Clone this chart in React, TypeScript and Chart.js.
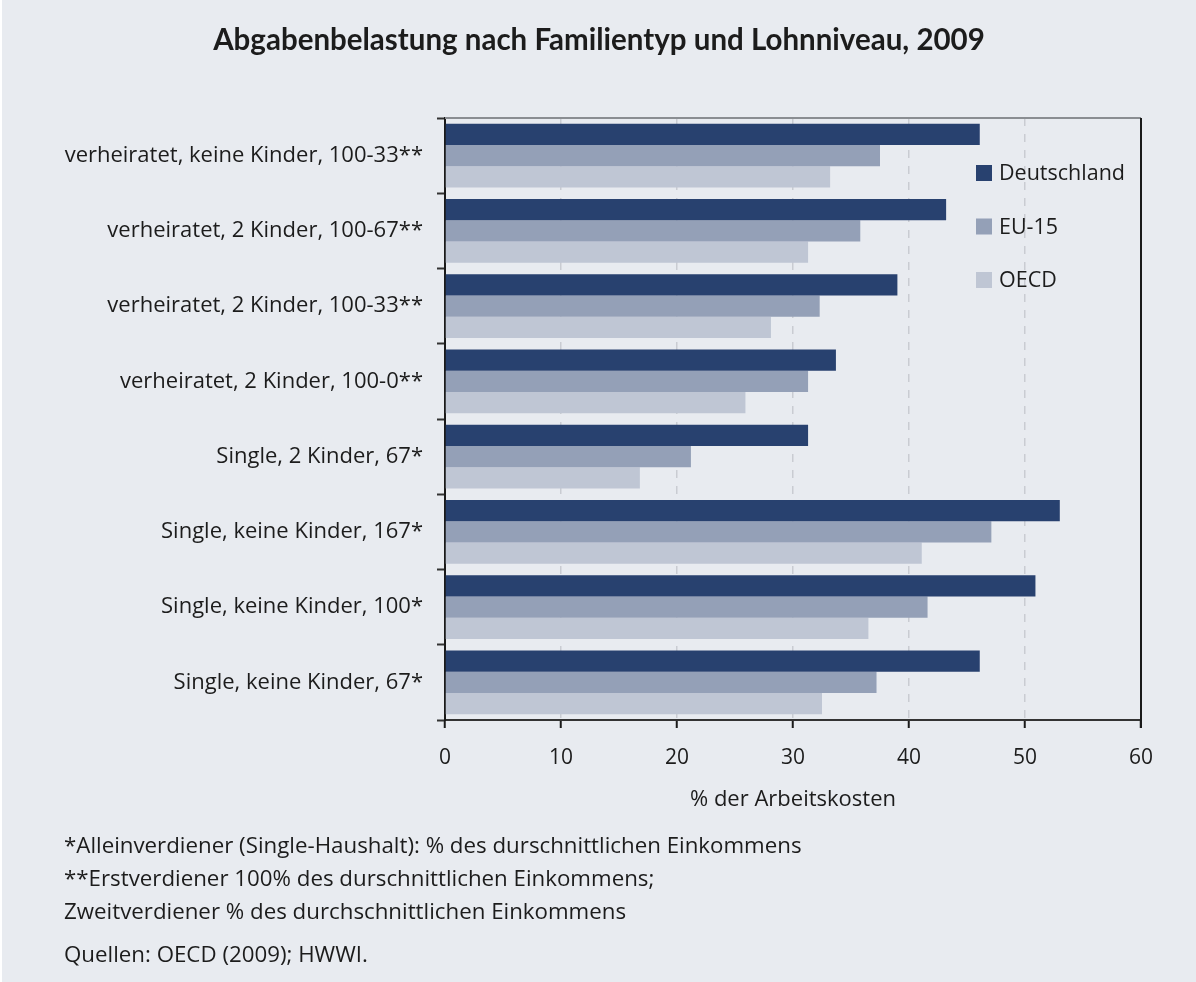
import React, { useEffect, useRef } from "react";
import { Chart, registerables } from "chart.js";
Chart.register(...registerables);

const categories = [
  "verheiratet, keine Kinder, 100-33**",
  "verheiratet, 2 Kinder, 100-67**",
  "verheiratet, 2 Kinder, 100-33**",
  "verheiratet, 2 Kinder, 100-0**",
  "Single, 2 Kinder, 67*",
  "Single, keine Kinder, 167*",
  "Single, keine Kinder, 100*",
  "Single, keine Kinder, 67*",
];
const deutschland = [46.1, 43.2, 39.0, 33.7, 31.3, 53.0, 50.9, 46.1];
const eu15 = [37.5, 35.8, 32.3, 31.3, 21.2, 47.1, 41.6, 37.2];
const oecd = [33.2, 31.3, 28.1, 25.9, 16.8, 41.1, 36.5, 32.5];
const seriesNames = ["Deutschland", "EU-15", "OECD"];
const xMin = 0;
const xMax = 60;
const xStep = 10;

const titleText = "Abgabenbelastung nach Familientyp und Lohnniveau, 2009";
const xTitle = "% der Arbeitskosten";
const notes = [
  "*Alleinverdiener (Single-Haushalt): % des durschnittlichen Einkommens",
  "**Erstverdiener 100% des durschnittlichen Einkommens;",
  "Zweitverdiener % des durchschnittlichen Einkommens",
];
const sourceText = "Quellen: OECD (2009); HWWI.";

const COLORS = ["#28416f", "#94a0b7", "#bfc6d4"];
const BG = "#e8ebf0";
const TEXT = "#1c1c1c";
const FONT = "'Open Sans', Lato, sans-serif";
const TITLE_FONT = "Lato, 'Open Sans', sans-serif";

const legendPlugin = {
  id: "insideLegend",
  afterDatasetsDraw(chart: any) {
    const { ctx, chartArea } = chart;
    ctx.save();
    ctx.font = "21.5px 'Open Sans'";
    ctx.textBaseline = "middle";
    ctx.textAlign = "left";
    chart.data.datasets.forEach((ds: any, i: number) => {
      const x = chartArea.right - 165;
      const y = chartArea.top + 55 + i * 53.5;
      ctx.fillStyle = ds.backgroundColor;
      ctx.fillRect(x, y - 8, 16, 16);
      ctx.fillStyle = TEXT;
      ctx.fillText(ds.label, x + 23, y + 1);
    });
    ctx.restore();
  },
};

const framePlugin = {
  id: "frame",
  afterDraw(chart: any) {
    const { ctx, chartArea } = chart;
    ctx.save();
    ctx.strokeStyle = "#8a8d92";
    ctx.lineWidth = 2;
    ctx.beginPath();
    ctx.moveTo(chartArea.left, chartArea.top);
    ctx.lineTo(chartArea.right, chartArea.top);
    ctx.stroke();
    ctx.strokeStyle = "#1a1a1a";
    ctx.beginPath();
    ctx.moveTo(chartArea.right, chartArea.top);
    ctx.lineTo(chartArea.right, chartArea.bottom + 8);
    ctx.stroke();
    ctx.restore();
  },
};

export default function App() {
  const ref = useRef<HTMLCanvasElement>(null);
  useEffect(() => {
    if (!ref.current) return;
    const chart = new Chart(ref.current, {
      type: "bar",
      data: {
        labels: categories,
        datasets: [deutschland, eu15, oecd].map((d, i) => ({
          label: seriesNames[i],
          data: d,
          backgroundColor: COLORS[i],
          borderWidth: 0,
          categoryPercentage: 0.85,
          barPercentage: 1.0,
        })),
      },
      options: {
        indexAxis: "y",
        responsive: false,
        animation: false,
        devicePixelRatio: 1,
        layout: { padding: { left: 0, top: 118, right: 55, bottom: 162 } },
        plugins: {
          legend: { display: false },
          title: { display: false },
          tooltip: { enabled: false },
        },
        scales: {
          x: {
            min: xMin,
            max: xMax,
            ticks: {
              stepSize: xStep,
              color: TEXT,
              font: { family: FONT, size: 21 },
              padding: 17,
            },
            grid: {
              color: "#c9ccd2",
              lineWidth: 1.5,
              drawOnChartArea: true,
              drawTicks: true,
              tickLength: 8,
              tickColor: "#1a1a1a",
              tickWidth: 2,
            },
            border: { display: true, color: "#333", width: 2, dash: [8, 8] },
            title: {
              display: true,
              text: xTitle,
              color: TEXT,
              font: { family: FONT, size: 22 },
              padding: { top: 0, bottom: 7 },
            },
            afterFit: (scale: any) => {
              scale.height = 100;
            },
          },
          y: {
            ticks: {
              color: TEXT,
              font: { family: FONT, size: 22 },
              padding: 14,
            },
            grid: {
              drawOnChartArea: false,
              drawTicks: true,
              tickLength: 8,
              tickColor: "#333",
              tickWidth: 2,
              offset: true,
            },
            border: { display: true, color: "#1a1a1a", width: 2 },
            afterFit: (scale: any) => {
              scale.width = 443;
            },
          },
        },
      },
      plugins: [legendPlugin, framePlugin],
    } as any);
    return () => chart.destroy();
  }, []);

  const noteStyle = (top: number): React.CSSProperties => ({
    position: "absolute",
    left: 62,
    top,
    fontFamily: FONT,
    fontSize: 22.3,
    lineHeight: "26px",
    color: TEXT,
    whiteSpace: "nowrap",
  });

  return (
    <div
      style={{
        position: "absolute",
        left: 2,
        top: 0,
        width: 1194,
        height: 982,
        background: BG,
        overflow: "hidden",
      }}
    >
      <canvas ref={ref} width={1194} height={982} style={{ position: "absolute", left: 0, top: 0 }} />
      <div
        style={{
          position: "absolute",
          left: 0,
          top: 21,
          width: 1194,
          textAlign: "center",
          fontFamily: TITLE_FONT,
          fontWeight: 700,
          fontSize: 29.5,
          lineHeight: "36px",
          color: TEXT,
        }}
      >
        {titleText}
      </div>
      {notes.map((n, i) => (
        <div key={i} style={noteStyle(832 + i * 33)}>
          {n}
        </div>
      ))}
      <div style={noteStyle(941)}>{sourceText}</div>
    </div>
  );
}
